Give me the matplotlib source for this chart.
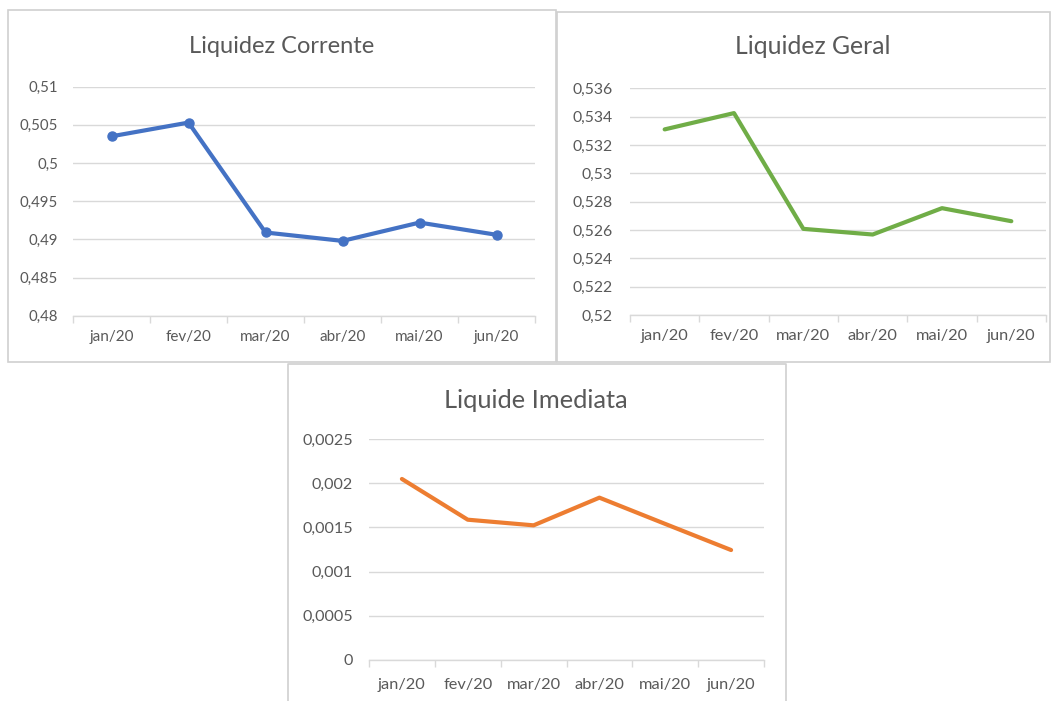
import matplotlib
matplotlib.use("Agg")
import matplotlib.pyplot as plt
from matplotlib.patches import Rectangle
from matplotlib.lines import Line2D

plt.rcParams['font.family'] = ['Lato', 'DejaVu Sans']

months = ["jan/20", "fev/20", "mar/20", "abr/20", "mai/20", "jun/20"]

corrente = [0.5035, 0.5053, 0.4909, 0.4898, 0.4922, 0.4906]
corrente_ticks = [0.48, 0.485, 0.49, 0.495, 0.50, 0.505, 0.51]
corrente_labels = ["0,48", "0,485", "0,49", "0,495", "0,5", "0,505", "0,51"]

geral = [0.5331, 0.53425, 0.52608, 0.52568, 0.52754, 0.52662]
geral_ticks = [0.52, 0.522, 0.524, 0.526, 0.528, 0.53, 0.532, 0.534, 0.536]
geral_labels = ["0,52", "0,522", "0,524", "0,526", "0,528", "0,53", "0,532", "0,534", "0,536"]

imediata = [0.00205, 0.001588, 0.001524, 0.001838, 0.00154, 0.001244]
imediata_ticks = [0, 0.0005, 0.001, 0.0015, 0.002, 0.0025]
imediata_labels = ["0", "0,0005", "0,001", "0,0015", "0,002", "0,0025"]

W, H = 1052, 701
fig = plt.figure(figsize=(W / 100, H / 100), dpi=100)
fig.patch.set_facecolor("white")

TXT = "#595959"
GRID = "#D9D9D9"
BORDER = "#D0D0D0"


def fx(px):
    return px / W


def fy(py):
    return 1 - py / H


def panel_box(x0, y0, x1, y1):
    fig.add_artist(Rectangle((fx(x0), fy(y1)), fx(x1) - fx(x0), fy(y0) - fy(y1),
                             transform=fig.transFigure, facecolor="none",
                             edgecolor=BORDER, linewidth=1.2, zorder=0))


def make_axes(l, r, t, b, values, ticks, labels, color, marker, title, tcx, tcy,
              ypad, xpad, ysize, xsize, tsize):
    ax = fig.add_axes([fx(l), fy(b), fx(r) - fx(l), fy(t) - fy(b)])
    ax.set_facecolor("none")
    x = list(range(len(months)))
    ax.plot(x, values, color=color, linewidth=3.0, marker=marker, markersize=6.5,
            solid_capstyle="round", solid_joinstyle="round", zorder=3, clip_on=False)
    ax.set_xlim(-0.5, len(months) - 0.5)
    ax.set_ylim(ticks[0], ticks[-1])
    ax.set_yticks(ticks)
    ax.set_yticklabels(labels)
    ax.set_xticks(x)
    ax.set_xticklabels(months)
    ax.set_xticks([i - 0.5 for i in range(len(months) + 1)], minor=True)
    ax.tick_params(axis="x", which="major", length=0, pad=xpad, labelsize=xsize, labelcolor=TXT)
    ax.tick_params(axis="x", which="minor", length=5, width=1, color=GRID, direction="out")
    ax.tick_params(axis="y", length=0, pad=ypad, labelsize=ysize, labelcolor=TXT)
    for s in ["top", "right", "left"]:
        ax.spines[s].set_visible(False)
    ax.spines["bottom"].set_color(GRID)
    ax.spines["bottom"].set_linewidth(1)
    ax.grid(axis="y", color=GRID, linewidth=1)
    ax.set_axisbelow(True)
    fig.text(fx(tcx), fy(tcy), title, ha="center", va="center", fontsize=tsize, color=TXT)
    return ax


panel_box(8, 10, 556, 362)
panel_box(557, 12, 1050, 362)
# bottom panel, cut off by the bottom edge
fig.add_artist(Line2D([fx(288), fx(288), fx(786), fx(786)], [fy(701), fy(364), fy(364), fy(701)],
                      transform=fig.transFigure, color=BORDER, linewidth=1.2))

make_axes(73, 535, 86.7, 315.7, corrente, corrente_ticks, corrente_labels, "#4472C4", "o",
          "Liquidez Corrente", 282, 46.5, 10.8, 10, 10.8, 11, 17)
make_axes(630, 1046, 88.3, 315, geral, geral_ticks, geral_labels, "#70AD47", None,
          "Liquidez Geral", 813, 47, 12.3, 10, 11.3, 11.8, 17.8)
make_axes(369, 764, 439.3, 659.7, imediata, imediata_ticks, imediata_labels, "#ED7D31", None,
          "Liquide Imediata", 536, 400, 11.5, 13, 11.6, 11.8, 18.3)

fig.savefig("out.png", dpi=100, facecolor="white")
